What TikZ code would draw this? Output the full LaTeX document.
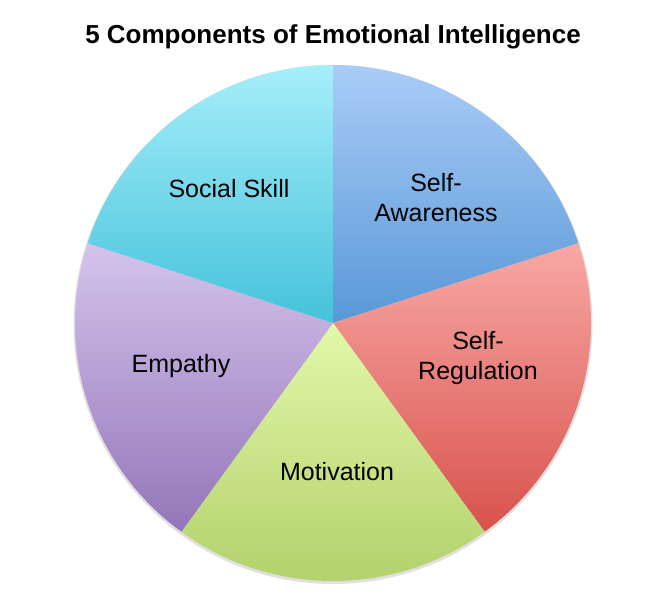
\documentclass[tikz,border=0pt]{standalone}
\usepackage{fontspec}
\setmainfont{Liberation Sans}
\newcommand{\pieR}{258pt}

\begin{document}
\begin{tikzpicture}[
    x=1pt, y=1pt,
    slice/.style={draw=none, shading angle=0},
    label text/.style={font=\fontsize{25}{30}\selectfont, align=center, text=black},
    title text/.style={font=\fontsize{26}{30}\selectfont\bfseries}
]
\useasboundingbox (0,0) rectangle (651,599);
\coordinate (C) at (333,276);
% faint shadow under the pie
\fill[black!12] (333,274.5) circle[radius=259.5pt];
% slices, light at the top and darker below
\path[slice, top color={rgb,255:red,170;green,204;blue,247}, bottom color={rgb,255:red,88;green,152;blue,215}]
  (C) -- ++(18:\pieR) arc[start angle=18, end angle=90, radius=\pieR] -- cycle;
\path[slice, top color={rgb,255:red,248;green,168;blue,165}, bottom color={rgb,255:red,216;green,82;blue,76}]
  (C) -- ++(-54:\pieR) arc[start angle=-54, end angle=18, radius=\pieR] -- cycle;
\path[slice, top color={rgb,255:red,226;green,248;blue,170}, bottom color={rgb,255:red,176;green,207;blue,104}]
  (C) -- ++(-126:\pieR) arc[start angle=-126, end angle=-54, radius=\pieR] -- cycle;
\path[slice, top color={rgb,255:red,213;green,195;blue,236}, bottom color={rgb,255:red,147;green,118;blue,184}]
  (C) -- ++(162:\pieR) arc[start angle=162, end angle=234, radius=\pieR] -- cycle;
\path[slice, top color={rgb,255:red,166;green,238;blue,250}, bottom color={rgb,255:red,68;green,194;blue,218}]
  (C) -- ++(90:\pieR) arc[start angle=90, end angle=162, radius=\pieR] -- cycle;

\node[title text] (title) at (333,562) {5 Components of Emotional Intelligence};
\node[label text] (SA) at (436,401) {Self-\\Awareness};
\node[label text] (SR) at (478,241) {Self-\\Regulation};
\node[label text] (M) at (337,127) {Motivation};
\node[label text] (E) at (181,233) {Empathy};
\node[label text] (SS) at (229,410) {Social Skill};
\end{tikzpicture}
\end{document}
